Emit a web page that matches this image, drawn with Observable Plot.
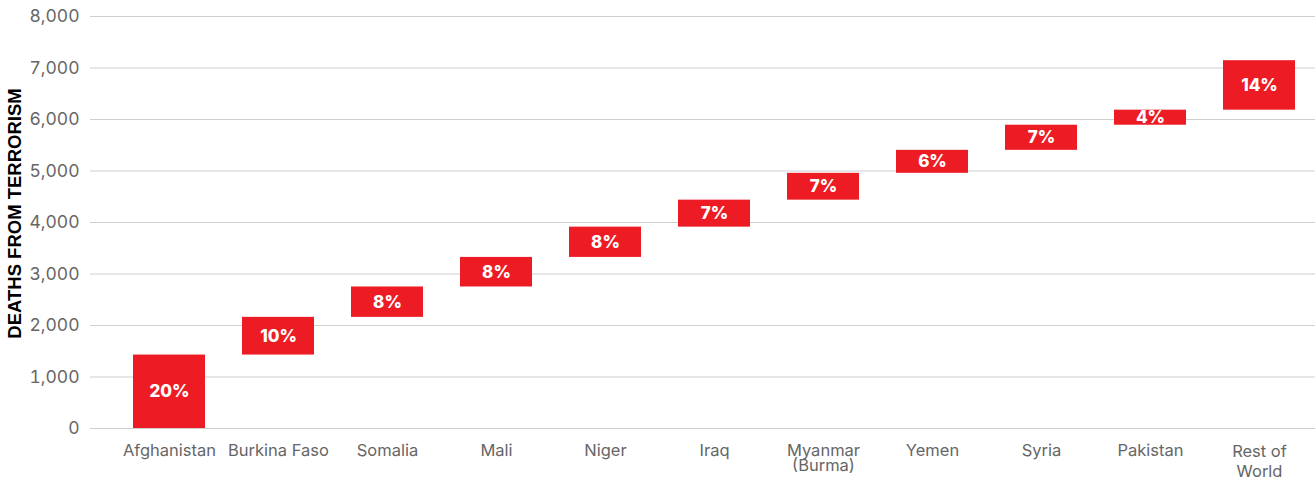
<!DOCTYPE html>
<html>
<head>
<meta charset="utf-8">
<script src="https://cdn.jsdelivr.net/npm/d3@7"></script>
<script src="https://cdn.jsdelivr.net/npm/@observablehq/plot@0.6"></script>
<style>
  html, body { margin: 0; padding: 0; background: #fff; }
  #chart { width: 1315px; height: 482px; }
</style>
</head>
<body>
<div id="chart"></div>
<script>
// Data
const countries = ["Afghanistan", "Burkina Faso", "Somalia", "Mali", "Niger", "Iraq", "Myanmar\n(Burma)", "Yemen", "Syria", "Pakistan", "Rest of\nWorld"];
const deaths = [1426, 732, 590, 574, 588, 524, 521, 446, 488, 292, 961];
const shareLabels = ["20%", "10%", "8%", "8%", "8%", "7%", "7%", "6%", "7%", "4%", "14%"];
const yTicks = [0, 1000, 2000, 3000, 4000, 5000, 6000, 7000, 8000];
const yTitle = ["DEATHS FROM TERRORISM"];

// Build waterfall table
let cum = 0;
const rows = countries.map((c, i) => {
  const start = cum;
  cum += deaths[i];
  return {country: c, y1: start, y2: cum, label: shareLabels[i]};
});

const lastCat = countries[countries.length - 1];
const xTicksMain = countries.filter(c => c !== lastCat);
const xTicksLast = [lastCat];

const chart = Plot.plot({
  width: 1315,
  height: 482,
  marginTop: 16,
  marginBottom: 54,
  marginLeft: 90,
  marginRight: 0,
  style: {fontFamily: "Inter, sans-serif", fontSize: "16px", background: "#fff"},
  x: {domain: countries, range: [95, 1333], padding: 0.34},
  y: {domain: [0, 8000]},
  marks: [
    Plot.gridY(yTicks, {stroke: "#cfcfcf", strokeOpacity: 1, strokeWidth: 1.2}),
    Plot.axisY(yTicks, {tickSize: 0, tickPadding: 11, tickFormat: d3.format(","), color: "#666", fontSize: 17.5, label: null}),
    Plot.axisX(xTicksMain, {tickSize: 0, tickPadding: 17, color: "#666", fontSize: 16.5, label: null, lineHeight: 0.92}),
    Plot.axisX(xTicksLast, {tickSize: 0, tickPadding: 14, color: "#666", fontSize: 16.5, label: null, lineHeight: 1.22}),
    Plot.rectY(rows, {x: "country", y1: "y1", y2: "y2", fill: "#ed1c24"}),
    Plot.text(rows, {x: "country", y: d => (d.y1 + d.y2) / 2, text: "label", fill: "white", fontWeight: 800, fontSize: 17}),
    Plot.text(yTitle, {frameAnchor: "left", textAnchor: "middle", dx: -75, dy: -9, rotate: -90, text: d => d, fill: "#000", fontWeight: "bold", fontSize: 18.5, fontFamily: "Liberation Sans, Arial, sans-serif"})
  ]
});
document.getElementById("chart").appendChild(chart);
</script>
</body>
</html>
